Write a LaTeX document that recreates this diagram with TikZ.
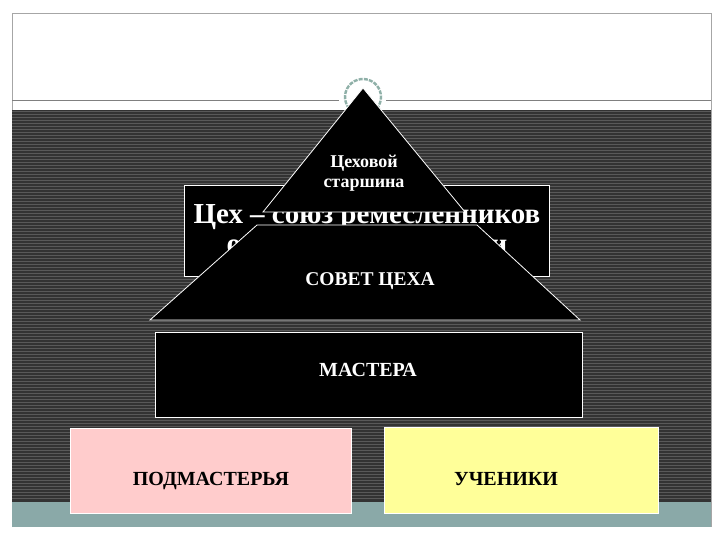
\documentclass[tikz,border=0pt]{standalone}
\usepackage{fontspec}
\setmainfont{Liberation Serif}

\definecolor{banddark}{HTML}{333333}
\definecolor{bandstripe}{HTML}{595959}
\definecolor{bandteal}{HTML}{8AA9A8}
\definecolor{wreath}{HTML}{8FB0A8}
\definecolor{pinkbox}{HTML}{FFCCCC}
\definecolor{yellowbox}{HTML}{FFFF99}

\tikzset{
  darkbox/.style={fill=black, draw=white, line width=0.8pt},
  lightbox/.style={draw=white, line width=0.8pt},
  whitetext/.style={white, font=\bfseries, align=center, inner sep=0pt},
}

\begin{document}
\begin{tikzpicture}[x=1pt, y=-1pt]
\path [use as bounding box, fill=white] (0,0) rectangle (720,540);
% slide frame and striped band
\draw [gray!70, line width=0.7pt] (12,527) -- (12,13) -- (711,13) -- (711,527);
\draw [gray, line width=0.8pt] (12,100) -- (711,100);
\path [fill=banddark] (12,110) rectangle (711,502);
\foreach \y in {111.5,114.5,...,501} {
  \draw [bandstripe, line width=0.9pt] (12,\y) -- (711,\y);
}
\path [fill=bandteal] (12,502) rectangle (711,527);
% emblem
\path [fill=white] (339,76) rectangle (386,110);
\draw [wreath, line width=2.4pt, dash pattern=on 4pt off 1.2pt] ([shift={(140:18)}]363,97) arc (140:400:18);
% title
\path [darkbox] (184,185) rectangle (549,276);
\node [whitetext, font=\bfseries\fontsize{29}{32}\selectfont, anchor=base] (title) at (367,224) {Цех – союз ремесленников};
\node [whitetext, font=\bfseries\fontsize{29}{32}\selectfont, anchor=base] (title2) at (367,253) {одной специальности};
% pyramid
\path [darkbox] (363,88) -- (263,212) -- (465,212) -- cycle;
\node [whitetext, font=\bfseries\fontsize{18}{20}\selectfont, anchor=base] (chief) at (364,188) {Цеховой\\старшина};
\path [darkbox] (257,225) -- (150,320) -- (580,320) -- (477,225) -- cycle;
\node [whitetext, font=\bfseries\fontsize{19.5}{22}\selectfont, anchor=base] (council) at (370,285) {СОВЕТ ЦЕХА};
\path [darkbox] (155,332) rectangle (582,417);
\node [whitetext, font=\bfseries\fontsize{20}{22}\selectfont, anchor=base] (masters) at (368,376) {МАСТЕРА};
% lower boxes
\path [lightbox, fill=pinkbox] (70,428) rectangle (351,513);
\node [whitetext, black, font=\bfseries\fontsize{20}{22}\selectfont, anchor=base] (journeymen) at (211,485) {ПОДМАСТЕРЬЯ};
\path [lightbox, fill=yellowbox] (384,427) rectangle (658,513);
\node [whitetext, black, font=\bfseries\fontsize{20}{22}\selectfont, anchor=base] (pupils) at (506,485) {УЧЕНИКИ};
\end{tikzpicture}
\end{document}
